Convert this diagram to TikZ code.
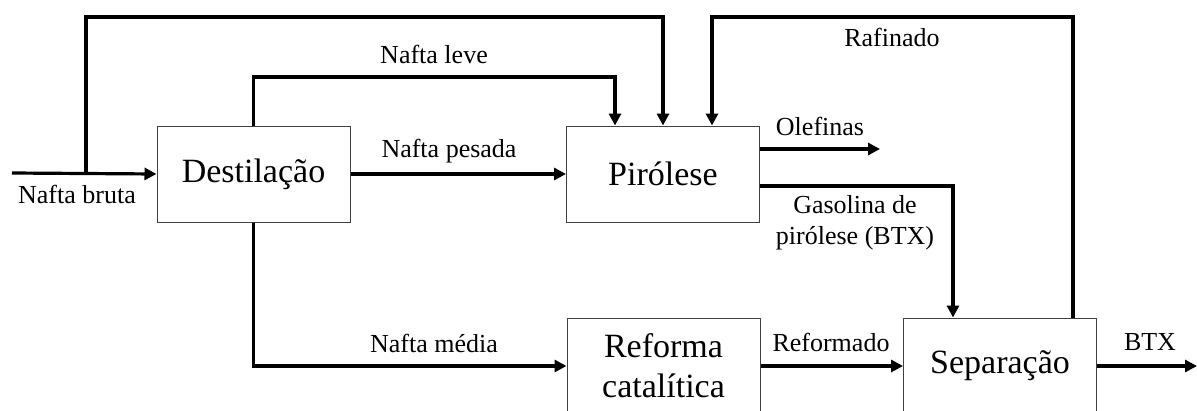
\documentclass[tikz,border=0pt]{standalone}
\usepackage{fontspec}
\setmainfont{Liberation Serif}
\usetikzlibrary{arrows.meta,calc}
\begin{document}
\begin{tikzpicture}[x=1pt,y=-1pt,
  box/.style={draw=black!75,line width=1pt,minimum width=193pt,minimum height=96pt,inner sep=0pt,font=\fontsize{34}{40}\selectfont,align=center},
  flow/.style={line width=3.2pt,-{Triangle[length=12pt,width=12pt]}},
  lbl/.style={font=\fontsize{26}{31}\selectfont,anchor=base,inner sep=0pt,align=center}]
\useasboundingbox (0,0) rectangle (1197,410);
% boxes
\node[box] (dest) at (253.5,174) {Destilação};
\node[box] (pir) at (663,174) {Pirólese};
\node[box] (ref) at (663.5,366) {Reforma\\catalítica};
\node[box] (sep) at (1000,366) {Separação};
% free ends and bends
\coordinate (in) at (12,173);
\coordinate (br) at (86,173);
\coordinate (t1) at (86,17);
\coordinate (nl) at (254,77);
\coordinate (rt) at (1073,17);
\coordinate (ol) at (880,149);
\coordinate (gs) at (953,186);
\coordinate (out) at (1197,366);
% connectors
\draw[flow] (in) -- (dest.west);
\draw[flow] (br) -- (t1) -| (pir.north);
\draw[flow] (dest.north) -- (dest.north |- nl) -| ([xshift=-48pt]pir.north);
\draw[flow] (dest.east) -- (pir.west);
\draw[flow] ([xshift=73pt]sep.north) -- (rt) -| ([xshift=49pt]pir.north);
\draw[flow] (pir.east |- ol) -- (ol);
\draw[flow] (pir.east |- gs) -| ([xshift=-47pt]sep.north);
\draw[flow] (dest.south) |- (ref.west);
\draw[flow] (ref.east) -- (sep.west);
\draw[flow] (sep.east) -- (out);
% labels
\node[lbl] (lbruta) at (77,203) {Nafta bruta};
\node[lbl] (lleve) at (434,63) {Nafta leve};
\node[lbl] (lpesada) at (449,157) {Nafta pesada};
\node[lbl] (lolef) at (820,135) {Olefinas};
\node[lbl] (lraf) at (892,46) {Rafinado};
\node[lbl] (lgas) at (855,213) {Gasolina de};
\node[lbl] (lgas2) at (855,244) {pirólese (BTX)};
\node[lbl] (lmedia) at (434,352) {Nafta média};
\node[lbl] (lrefo) at (831,351) {Reformado};
\node[lbl] (lbtx) at (1150,350) {BTX};
\end{tikzpicture}
\end{document}
